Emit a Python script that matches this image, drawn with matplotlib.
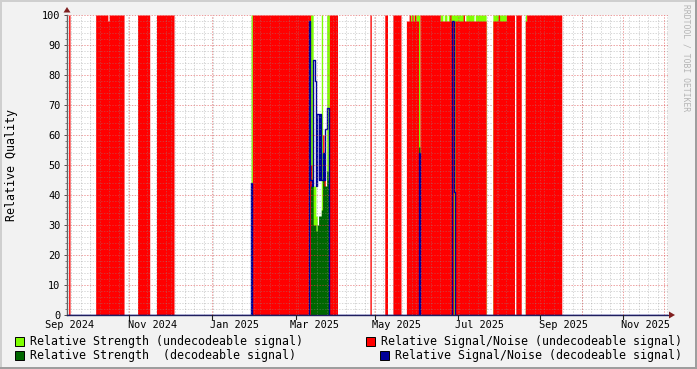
# RRD style "relative quality" graph: signal strength and signal/noise for
# decodeable and undecodeable signals, one value per day, drawn as areas.
from matplotlib import pyplot as plt
from matplotlib.patches import Rectangle, Polygon
import numpy as np
import pandas as pd

# Relative Signal/Noise (undecodeable signal), runs of days with one value
snr_undec_start = ["2024-08-31", "2024-09-20", "2024-09-29", "2024-09-30", "2024-10-21", "2024-11-04",
                   "2025-01-14", "2025-03-12", "2025-04-11", "2025-04-22", "2025-04-28", "2025-05-08",
                   "2025-05-10", "2025-05-11", "2025-05-12", "2025-05-13", "2025-05-14", "2025-05-15",
                   "2025-05-18", "2025-06-02", "2025-06-09", "2025-06-10", "2025-06-13", "2025-06-19",
                   "2025-06-20", "2025-07-11", "2025-07-15", "2025-07-16", "2025-07-21", "2025-07-28",
                   "2025-08-04", "2025-08-05"]
snr_undec_end = ["2024-08-31", "2024-09-28", "2024-09-29", "2024-10-10", "2024-10-29", "2024-11-16",
                 "2025-02-24", "2025-03-17", "2025-04-11", "2025-04-23", "2025-05-03", "2025-05-09",
                 "2025-05-10", "2025-05-11", "2025-05-12", "2025-05-13", "2025-05-14", "2025-05-16",
                 "2025-06-01", "2025-06-08", "2025-06-09", "2025-06-11", "2025-06-18", "2025-06-19",
                 "2025-07-05", "2025-07-14", "2025-07-15", "2025-07-20", "2025-07-26", "2025-07-31",
                 "2025-08-04", "2025-08-30"]
snr_undec_value = [100, 100, 98, 100, 100, 100,
                   100, 100, 100, 100, 100, 98,
                   100, 98, 100, 98, 100, 98,
                   100, 98, 100, 98, 98, 100,
                   98, 98, 100, 98, 100, 100,
                   98, 100]

# Relative Strength (undecodeable signal), only where it shows above the red
str_undec_start = ["2025-01-13", "2025-05-11", "2025-05-13", "2025-05-15", "2025-06-02", "2025-06-05",
                   "2025-06-08", "2025-06-21", "2025-06-28", "2025-07-11", "2025-08-04"]
str_undec_end = ["2025-01-13", "2025-05-11", "2025-05-13", "2025-05-17", "2025-06-03", "2025-06-06",
                 "2025-06-19", "2025-06-26", "2025-07-05", "2025-07-20", "2025-08-04"]
str_undec_value = [100, 100, 100, 100, 100, 100, 100, 100, 100, 100, 100]

# Relative Strength (decodeable signal)
str_dec_start = ["2025-05-17"]
str_dec_end = ["2025-05-17"]
str_dec_value = [56]

# Relative Signal/Noise (decodeable signal)
snr_dec_start = ["2025-01-13", "2025-05-17", "2025-06-11", "2025-06-12"]
snr_dec_end = ["2025-01-13", "2025-05-17", "2025-06-11", "2025-06-12"]
snr_dec_value = [44, 54, 98, 41]

# The busy stretch from 25 Feb to 11 Mar 2025, day by day
march_first_day = "2025-02-25"
march_str_undec = [0, 100, 100, 43, 43, 33, 0, 0, 0, 100, 0, 0, 0, 100, 100]
march_snr_undec = [100, 50, 0, 0, 0, 0, 0, 0, 0, 0, 60, 50, 0, 0, 0]
march_str_dec = [0, 43, 43, 30, 30, 28, 30, 33, 33, 35, 45, 43, 43, 48, 45]
march_snr_dec = [98, 45, 43, 85, 78, 43, 67, 45, 67, 45, 54, 45, 62, 69, 69]

x_labels = ["Sep 2024", "Nov 2024", "Jan 2025", "Mar 2025", "May 2025", "Jul 2025", "Sep 2025", "Nov 2025"]
x_label_days = ["2024-09-01", "2024-11-01", "2025-01-01", "2025-03-01", "2025-05-01", "2025-07-01",
                "2025-09-01", "2025-11-01"]

W, H = 697, 369
MONO = "DejaVu Sans Mono"
days = pd.date_range("2024-08-29", "2025-11-18", freq="D")


def daily(starts, ends, values, march=None):
    """Turn runs of days into one value per day, 0 where nothing was seen."""
    s = pd.Series(0.0, index=days)
    for a, b, v in zip(starts, ends, values):
        s[a:b] = v
    if march is not None:
        s[pd.date_range(march_first_day, periods=len(march))] = march
    return s


def px(x, y):
    # pixel position -> figure fraction
    return x / W, 1 - y / H


def draw_frame(fig):
    # shaded border of the rrdtool canvas
    for (x, y, w, h, c) in [(0, 0, W, 2, "#CFCFCF"), (0, 0, 2, H, "#CFCFCF"),
                            (0, H - 2, W, 2, "#9E9E9E"), (W - 2, 0, 2, H, "#9E9E9E")]:
        fig.patches.append(Rectangle(px(x, y + h), w / W, h / H, transform=fig.transFigure,
                                     fc=c, ec="none"))


if __name__ == '__main__':
    lg = daily(str_undec_start, str_undec_end, str_undec_value, march_str_undec)
    red = daily(snr_undec_start, snr_undec_end, snr_undec_value, march_snr_undec)
    dg = daily(str_dec_start, str_dec_end, str_dec_value, march_str_dec)
    blue = daily(snr_dec_start, snr_dec_end, snr_dec_value, march_snr_dec)

    fig = plt.figure(figsize=(W / 100, H / 100), dpi=100, facecolor="#F2F2F2")
    draw_frame(fig)
    ax = fig.add_axes([67 / W, (H - 315) / H, (668 - 67) / W, 300 / H])
    ax.set_facecolor("white")

    ax.fill_between(days, 0, lg.values, step="post", color="#7FFF00", lw=0, antialiased=False)
    ax.fill_between(days, 0, red.values, step="post", color="#FF0000", lw=0, antialiased=False)
    ax.fill_between(days, 0, dg.values, step="post", color="#006600", lw=0, antialiased=False)
    ax.step(days, blue.values, where="post", color="#000099", lw=1.0, zorder=2.2)

    t0 = pd.Timestamp("2024-09-01")
    ppd = 1.351  # pixels per day
    ax.set_xlim(t0 - pd.Timedelta(days=3 / ppd), t0 + pd.Timedelta(days=598 / ppd))
    ax.set_ylim(0, 100)

    # grid on top of the data, dotted and see-through like rrdtool
    dots = (0, (1.4, 1.4))
    minor_col = (0.56, 0.56, 0.56, 0.35)
    major_col = (0.87, 0.31, 0.31, 0.55)
    for v in range(2, 100, 2):
        if v % 10:
            ax.axhline(v, color=minor_col, lw=0.72, ls=dots, zorder=3)
    for v in range(10, 101, 10):
        ax.axhline(v, color=major_col, lw=0.72, ls=dots, zorder=3)
    for d in pd.date_range("2024-09-02", "2025-11-17", freq="7D"):
        ax.axvline(d, color=minor_col, lw=0.72, ls=dots, zorder=3)
    majors = pd.date_range("2024-09-15", "2025-11-15", freq="MS") + pd.Timedelta(days=14)
    for d in majors:
        ax.axvline(d, color=major_col, lw=0.72, ls=dots, zorder=3)
    for d in majors[::2]:
        ax.plot([d, d], [0, -1.2], color="#1F1F1F", lw=0.8, clip_on=False, zorder=4)

    ax.set_xticks(pd.to_datetime(x_label_days))
    ax.set_xticklabels(x_labels, family=MONO, fontsize=7.4)
    ax.tick_params(axis="x", length=0, pad=3.5)
    ax.set_yticks(range(0, 101, 10))
    ax.set_yticklabels([str(v) for v in range(0, 101, 10)], family=MONO, fontsize=7.4)
    ax.set_yticks(range(0, 101, 2), minor=True)
    ax.tick_params(axis="y", which="major", length=2.5, width=0.7, color="#505050", pad=2.2)
    ax.tick_params(axis="y", which="minor", length=1.5, width=0.7, color="#808080")
    fig.text(*px(12, 165), "Relative Quality", rotation=90, ha="center", va="center",
             family=MONO, fontsize=8.4)

    for side in ["top", "right"]:
        ax.spines[side].set_visible(False)
    ax.spines["left"].set_color("#606060")
    ax.spines["bottom"].set_color("#1F1F5F")
    ax.spines["left"].set_linewidth(1)
    ax.spines["bottom"].set_linewidth(1)

    # axis arrows
    arrow = "#801F1F"
    fig.patches.append(Polygon([px(63.5, 12.5), px(70.5, 12.5), px(67, 7)], closed=True,
                               transform=fig.transFigure, fc=arrow, ec="none"))
    fig.patches.append(Polygon([px(669, 311.5), px(669, 318.5), px(675, 315)], closed=True,
                               transform=fig.transFigure, fc=arrow, ec="none"))

    # watermark
    fig.text(*px(686, 4), "RRDTOOL / TOBI OETIKER", rotation=270, ha="center", va="top",
             family=MONO, fontsize=5.8, color="#B4B4B4")

    # legend, left column and right column
    items = [(15, 341, "#7FFF00", "Relative Strength (undecodeable signal)"),
             (15, 355, "#006600", "Relative Strength  (decodeable signal)"),
             (366, 341, "#FF0000", "Relative Signal/Noise (undecodeable signal)"),
             (380, 355, "#000099", "Relative Signal/Noise (decodeable signal)")]
    for x, y, col, text in items:
        fig.patches.append(Rectangle(px(x, y + 5), 9 / W, 9 / H, transform=fig.transFigure,
                                     fc=col, ec="black", lw=0.7))
        fig.text(*px(x + 15, y), text, family=MONO, fontsize=8.4, va="center", ha="left")

    plt.savefig("out.png", dpi=100)
